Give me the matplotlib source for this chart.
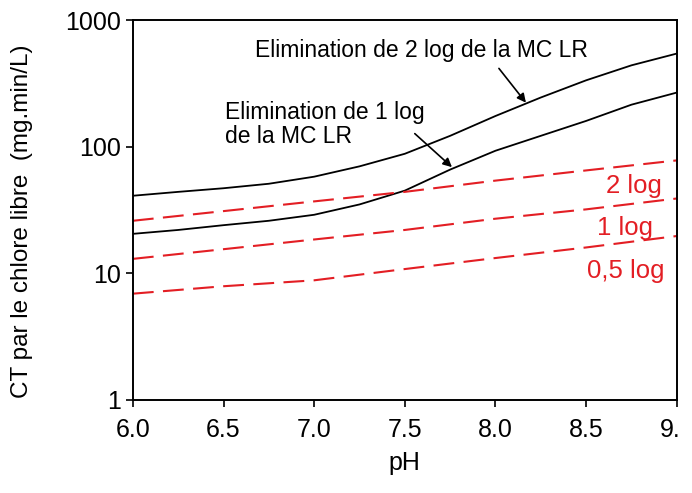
import matplotlib.pyplot as plt
from matplotlib.transforms import Bbox

plt.rcParams['font.family'] = ['Liberation Sans', 'DejaVu Sans']

# pH (axe x)
ph = [6.0, 6.25, 6.5, 6.75, 7.0, 7.25, 7.5, 7.75, 8.0, 8.25, 8.5, 8.75, 9.0]

# CT pour l'elimination de la MC LR (courbes noires)
ct_mc_2log = [41, 44, 47, 51, 58, 70, 88, 122, 175, 245, 335, 440, 545]
ct_mc_1log = [20.5, 22, 24, 26, 29, 35, 45, 66, 93, 122, 160, 215, 268]

# CT pour l'inactivation (courbes rouges pointillees)
ph_red = [6.0, 6.5, 7.0, 7.5, 8.0, 8.5, 9.0]
ct_2log = [26, 31, 37, 44, 54, 65, 78]
ct_1log = [13, 15.5, 18.5, 22, 27, 32, 39]
ct_05log = [6.9, 7.9, 8.8, 10.8, 13.2, 16.0, 19.7]

red_labels = ['2 log', '1 log', '0,5 log']

red = '#e31e24'

fig = plt.figure(figsize=(6.92, 4.93), dpi=100)
ax = fig.add_axes([0.192, 0.189, 0.786, 0.770])

ax.plot(ph, ct_mc_2log, color='black', lw=1.3)
ax.plot(ph, ct_mc_1log, color='black', lw=1.3)
for vals in [ct_2log, ct_1log, ct_05log]:
    ax.plot(ph_red, vals, color=red, lw=1.5, dashes=(10, 4.5))

ax.set_yscale('log')
ax.set_xlim(6.0, 9.0)
ax.set_ylim(1, 1000)
ax.set_xticks([6.0, 6.5, 7.0, 7.5, 8.0, 8.5, 9.0])
ax.set_xticklabels(['6.0', '6.5', '7.0', '7.5', '8.0', '8.5', '9.0'])
ax.set_yticks([1, 10, 100, 1000])
ax.set_yticklabels(['1', '10', '100', '1000'])
ax.minorticks_off()
ax.tick_params(axis='both', labelsize=18, length=5, width=1.2, direction='out')
ax.tick_params(axis='x', pad=8)
for s in ax.spines.values():
    s.set_linewidth(1.4)

# le "9.0" est coupe au bord droit dans l'original
lab = ax.xaxis.get_major_ticks()[-1].label1
lab.set_clip_on(True)
lab.set_clip_box(Bbox([[0, 0], [679, 493]]))

ax.set_xlabel('pH', fontsize=18, va='center')
ax.xaxis.set_label_coords(0.5, -0.166)
ax.set_ylabel('CT par le chlore libre  (mg.min/L)', fontsize=17.5, va='center')
ax.yaxis.set_label_coords(-0.204, 0.47)

# etiquettes des courbes rouges
ax.text(8.92, 49, red_labels[0], color=red, fontsize=18.5, ha='right', va='center')
ax.text(8.87, 22.8, red_labels[1], color=red, fontsize=18.5, ha='right', va='center')
ax.text(8.93, 10.4, red_labels[2], color=red, fontsize=18.5, ha='right', va='center')

# annotations des courbes noires
arrow = dict(arrowstyle='-|>', color='black', lw=1.2, mutation_scale=13,
             shrinkA=0, shrinkB=0)
ax.text(6.673, 578, 'Elimination de 2 log de la MC LR', fontsize=16.5,
        ha='left', va='center')
ax.annotate('', xy=(8.168, 223), xytext=(8.019, 416), arrowprops=arrow)
ax.text(6.507, 150, 'Elimination de 1 log\nde la MC LR', fontsize=16.5,
        ha='left', va='center', linespacing=1.1)
ax.annotate('', xy=(7.76, 69), xytext=(7.555, 127), arrowprops=arrow)

fig.savefig('out.png', dpi=100)
